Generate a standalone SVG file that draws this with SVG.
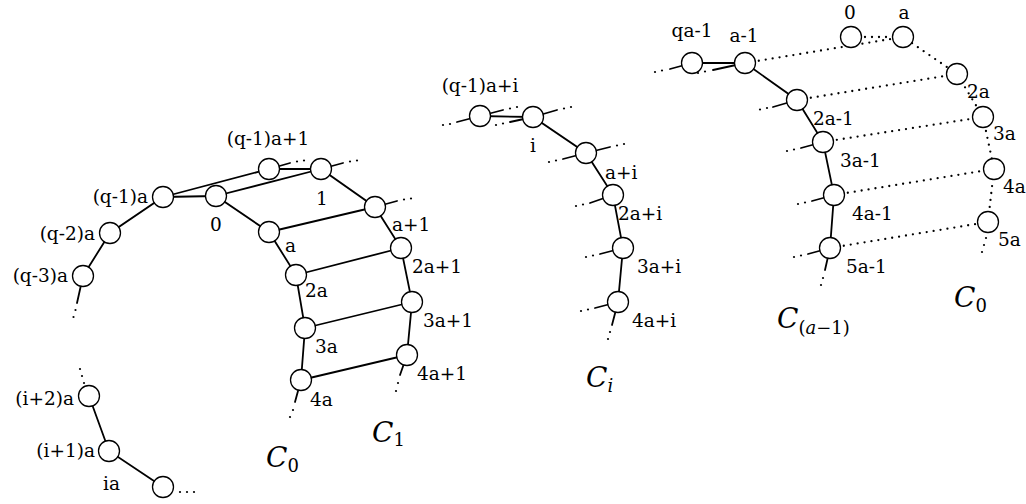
<svg xmlns="http://www.w3.org/2000/svg" width="1026" height="504" viewBox="0 0 1026 504" font-family="'DejaVu Serif', 'Liberation Serif', serif">
<style>
.e{stroke:#000;stroke-width:1.8;fill:none;stroke-linecap:round}
.d{stroke:#000;stroke-width:2.3;fill:none;stroke-linecap:round;stroke-dasharray:0 7}
.n{fill:#fff;stroke:#000;stroke-width:1.3}
.p{fill:#000}
text{font-family:'DejaVu Serif','Liberation Serif',serif;font-size:18.5px;fill:#000}
.c{font-style:italic;font-size:28px}
.s{font-size:18px;font-style:normal}
.si{font-size:18px;font-style:italic}
</style>
<rect width="1026" height="504" fill="#fff"/>
<g id="connectors">
<path class="e" d="M83,276 L110,233 L163,197 L216,196 L269,232 L296,275 L305,328 L301,380 L295,402"/>
<path class="e" d="M163,197 L269,169 L321,169 L375,207 L401,248 L412,302 L407,355 L400,375"/>
<path class="e" d="M216,196 L321,169 M269,232 L375,207 M296,275 L401,248 M305,328 L412,302 M301,380 L407,355"/>
<path class="e" d="M83,276 L77,303 M269,169 L290,163 M321,169 L343,163 M375,207 L397,201"/>
<path class="e" d="M89,396 L109,451 L163,487"/>
<path class="e" d="M480,116 L533,117 L586,153 L613,195 L623,248 L618,302 L612,325"/>
<path class="e" d="M480,116 L457,122 M480,116 L503,110 M533,117 L510,122 M533,117 L557,110 M586,153 L563,159 M586,153 L610,147 M613,195 L590,203 M623,248 L600,254 M618,302 L595,308"/>
<path class="e" d="M692,63 L745,63 L797,100 L823,142 L834,195 L830,248 L825,270"/>
<path class="e" d="M692,63 L670,69 M745,63 L713,70 M797,100 L773,107 M823,142 L801,148 M834,195 L812,201 M830,248 L808,254"/>
<path class="d" d="M851,37 L903,37 L957,74 L983,117 L994,169 L988,222"/>
<path class="d" d="M745,63 L903,37 M797,100 L957,74 M823,142 L983,117 M834,195 L994,169 M830,248 L988,222"/>
</g>
<g id="dots">
<circle class="p" cx="75.5" cy="310" r="1.1"/><circle class="p" cx="73.5" cy="317" r="1.1"/>
<circle class="p" cx="297" cy="161.5" r="1.1"/><circle class="p" cx="304" cy="160.5" r="1.1"/>
<circle class="p" cx="350" cy="161.5" r="1.1"/><circle class="p" cx="357" cy="160.5" r="1.1"/>
<circle class="p" cx="404" cy="199.5" r="1.1"/><circle class="p" cx="411" cy="198.5" r="1.1"/>
<circle class="p" cx="398" cy="383" r="1.1"/><circle class="p" cx="396" cy="391" r="1.1"/>
<circle class="p" cx="293" cy="410" r="1.1"/><circle class="p" cx="290" cy="417" r="1.1"/>
<circle class="p" cx="80" cy="369" r="1.1"/><circle class="p" cx="82" cy="376" r="1.1"/><circle class="p" cx="84" cy="383" r="1.1"/>
<circle class="p" cx="180" cy="492" r="1.1"/><circle class="p" cx="187" cy="492" r="1.1"/><circle class="p" cx="194" cy="492" r="1.1"/>
<circle class="p" cx="450" cy="124" r="1.1"/><circle class="p" cx="443" cy="125" r="1.1"/>
<circle class="p" cx="510" cy="108.5" r="1.1"/><circle class="p" cx="517" cy="107" r="1.1"/>
<circle class="p" cx="503" cy="123.5" r="1.1"/><circle class="p" cx="496" cy="125" r="1.1"/>
<circle class="p" cx="564" cy="108.5" r="1.1"/><circle class="p" cx="571" cy="107" r="1.1"/>
<circle class="p" cx="556" cy="160.5" r="1.1"/><circle class="p" cx="549" cy="162" r="1.1"/>
<circle class="p" cx="617" cy="145.5" r="1.1"/><circle class="p" cx="624" cy="144" r="1.1"/>
<circle class="p" cx="583" cy="204.5" r="1.1"/><circle class="p" cx="576" cy="206" r="1.1"/>
<circle class="p" cx="593" cy="255.5" r="1.1"/><circle class="p" cx="586" cy="257" r="1.1"/>
<circle class="p" cx="588" cy="309.5" r="1.1"/><circle class="p" cx="581" cy="311" r="1.1"/>
<circle class="p" cx="610" cy="332" r="1.1"/><circle class="p" cx="608" cy="339" r="1.1"/>
<circle class="p" cx="662" cy="70.5" r="1.1"/><circle class="p" cx="655" cy="72" r="1.1"/>
<circle class="p" cx="705" cy="71.5" r="1.1"/><circle class="p" cx="698" cy="73" r="1.1"/>
<circle class="p" cx="767" cy="108" r="1.1"/><circle class="p" cx="760" cy="109.5" r="1.1"/>
<circle class="p" cx="794" cy="149.5" r="1.1"/><circle class="p" cx="787" cy="151" r="1.1"/>
<circle class="p" cx="805" cy="202.5" r="1.1"/><circle class="p" cx="798" cy="204" r="1.1"/>
<circle class="p" cx="801" cy="255.5" r="1.1"/><circle class="p" cx="794" cy="257" r="1.1"/>
<circle class="p" cx="823" cy="278" r="1.1"/><circle class="p" cx="821" cy="285" r="1.1"/>
<circle class="p" cx="986" cy="238" r="1.1"/><circle class="p" cx="984" cy="245" r="1.1"/><circle class="p" cx="982" cy="252" r="1.1"/>
</g>
<g id="n-q1a"><circle class="n" cx="163" cy="197" r="10.5"/><text x="148" y="203" text-anchor="end">(q-1)a</text></g>
<g id="n-q2a"><circle class="n" cx="110" cy="233" r="10.5"/><text x="95" y="240" text-anchor="end">(q-2)a</text></g>
<g id="n-q3a"><circle class="n" cx="83" cy="276" r="10.5"/><text x="68" y="282" text-anchor="end">(q-3)a</text></g>
<g id="n-0"><circle class="n" cx="216" cy="196" r="10.5"/><text x="216" y="231" text-anchor="middle">0</text></g>
<g id="n-a"><circle class="n" cx="269" cy="232" r="10.5"/><text x="285" y="252">a</text></g>
<g id="n-2a"><circle class="n" cx="296" cy="275" r="10.5"/><text x="305" y="297">2a</text></g>
<g id="n-3a"><circle class="n" cx="305" cy="328" r="10.5"/><text x="315" y="353">3a</text></g>
<g id="n-4a"><circle class="n" cx="301" cy="380" r="10.5"/><text x="310" y="406">4a</text></g>
<g id="n-q1a1"><circle class="n" cx="269" cy="169" r="10.5"/><text x="268" y="145" text-anchor="middle">(q-1)a+1</text></g>
<g id="n-1"><circle class="n" cx="321" cy="169" r="10.5"/><text x="322" y="205" text-anchor="middle">1</text></g>
<g id="n-a1"><circle class="n" cx="375" cy="207" r="10.5"/><text x="392" y="231">a+1</text></g>
<g id="n-2a1"><circle class="n" cx="401" cy="248" r="10.5"/><text x="412" y="273">2a+1</text></g>
<g id="n-3a1"><circle class="n" cx="412" cy="302" r="10.5"/><text x="423" y="327">3a+1</text></g>
<g id="n-4a1"><circle class="n" cx="407" cy="355" r="10.5"/><text x="417" y="380">4a+1</text></g>
<g id="n-i2a"><circle class="n" cx="89" cy="396" r="10.5"/><text x="74" y="405" text-anchor="end">(i+2)a</text></g>
<g id="n-i1a"><circle class="n" cx="109" cy="451" r="10.5"/><text x="95" y="457" text-anchor="end">(i+1)a</text></g>
<g id="n-ia"><circle class="n" cx="163" cy="487" r="10.5"/><text x="103" y="490">ia</text></g>
<g id="n-q1ai"><circle class="n" cx="480" cy="116" r="10.5"/><text x="480" y="92" text-anchor="middle">(q-1)a+i</text></g>
<g id="n-i"><circle class="n" cx="533" cy="117" r="10.5"/><text x="533" y="152" text-anchor="middle">i</text></g>
<g id="n-ai"><circle class="n" cx="586" cy="153" r="10.5"/><text x="605" y="179">a+i</text></g>
<g id="n-2ai"><circle class="n" cx="613" cy="195" r="10.5"/><text x="618" y="220">2a+i</text></g>
<g id="n-3ai"><circle class="n" cx="623" cy="248" r="10.5"/><text x="637" y="273">3a+i</text></g>
<g id="n-4ai"><circle class="n" cx="618" cy="302" r="10.5"/><text x="632" y="327">4a+i</text></g>
<g id="n-qa1"><circle class="n" cx="692" cy="63" r="10.5"/><text x="692" y="37" text-anchor="middle">qa-1</text></g>
<g id="n-am1"><circle class="n" cx="745" cy="63" r="10.5"/><text x="744" y="42" text-anchor="middle">a-1</text></g>
<g id="n-2am1"><circle class="n" cx="797" cy="100" r="10.5"/><text x="813" y="125">2a-1</text></g>
<g id="n-3am1"><circle class="n" cx="823" cy="142" r="10.5"/><text x="840" y="167">3a-1</text></g>
<g id="n-4am1"><circle class="n" cx="834" cy="195" r="10.5"/><text x="852" y="220">4a-1</text></g>
<g id="n-5am1"><circle class="n" cx="830" cy="248" r="10.5"/><text x="846" y="273">5a-1</text></g>
<g id="n-r0"><circle class="n" cx="851" cy="37" r="10.5"/><text x="850" y="19" text-anchor="middle">0</text></g>
<g id="n-ra"><circle class="n" cx="903" cy="37" r="10.5"/><text x="904" y="19" text-anchor="middle">a</text></g>
<g id="n-r2a"><circle class="n" cx="957" cy="74" r="10.5"/><text x="967" y="98">2a</text></g>
<g id="n-r3a"><circle class="n" cx="983" cy="117" r="10.5"/><text x="993" y="140">3a</text></g>
<g id="n-r4a"><circle class="n" cx="994" cy="169" r="10.5"/><text x="1003" y="193">4a</text></g>
<g id="n-r5a"><circle class="n" cx="988" cy="222" r="10.5"/><text x="998" y="246">5a</text></g>
<g id="labels">
<text class="c" x="266" y="467">C<tspan class="s" dy="5">0</tspan></text>
<text class="c" x="372" y="442">C<tspan class="s" dy="4">1</tspan></text>
<text class="c" x="586" y="387">C<tspan class="si" dy="5">i</tspan></text>
<text class="c" x="777" y="328">C<tspan class="s" dy="6">(<tspan font-style="italic">a</tspan>−1)</tspan></text>
<text class="c" x="954" y="307">C<tspan class="s" dy="5">0</tspan></text>
</g>
</svg>
